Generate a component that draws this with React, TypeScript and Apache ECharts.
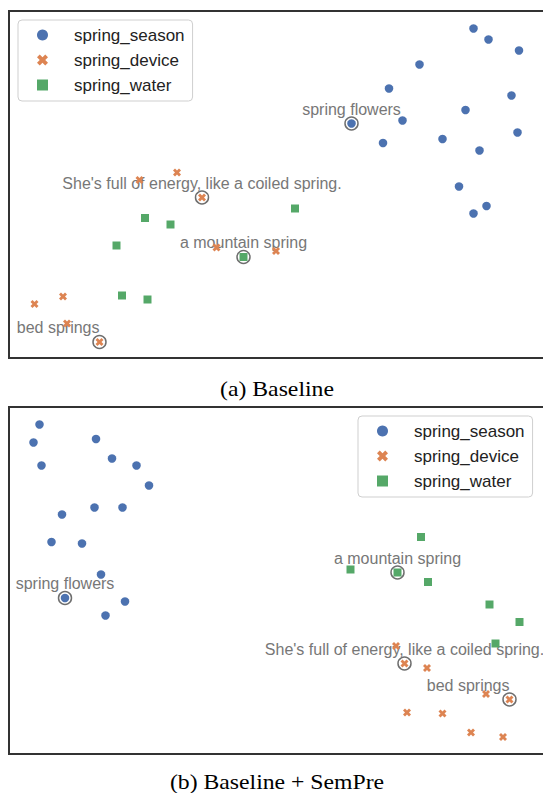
import React, { useEffect, useRef } from "react";
import * as echarts from "echarts";

// t-SNE style 2-D embeddings (arbitrary units)
const seasonA: [number, number][] = [
  [92.9, 65.9], [95.9, 63.7], [102.0, 61.5], [82.1, 58.7], [76.0, 53.9], [100.5, 52.5],
  [91.3, 49.6], [68.5, 46.9], [78.7, 47.5], [101.7, 45.1], [74.8, 43.0], [86.7, 43.8],
  [94.1, 41.5], [90.0, 34.3], [95.5, 30.4], [92.9, 28.9],
];
const deviceA: [number, number][] = [
  [33.6, 37.1], [26.1, 35.6], [38.6, 32.1], [41.5, 22.1], [53.4, 21.4], [10.8, 12.3],
  [5.1, 10.8], [11.6, 6.9], [18.1, 3.2],
];
const waterA: [number, number][] = [
  [27.2, 28.0], [32.3, 26.7], [21.5, 22.5], [46.9, 20.2], [22.6, 12.5], [27.7, 11.7], [57.2, 29.9],
];
const seasonB: [number, number][] = [
  [6.1, 65.9], [4.9, 62.3], [17.4, 63.0], [20.6, 59.1], [25.5, 57.7], [6.5, 57.7],
  [28.0, 53.7], [10.6, 47.9], [17.1, 49.3], [22.7, 49.3], [8.5, 42.4], [14.6, 42.1],
  [18.4, 35.9], [11.2, 31.2], [23.2, 30.5], [19.3, 27.7],
];
const deviceB: [number, number][] = [
  [77.4, 21.6], [79.1, 18.1], [83.6, 17.2], [95.4, 12.0], [100.1, 10.9], [79.6, 8.3],
  [86.7, 8.1], [92.4, 4.3], [98.8, 3.4],
];
const waterB: [number, number][] = [
  [82.4, 43.4], [68.3, 36.9], [77.7, 36.3], [83.8, 34.4], [96.1, 29.9], [102.1, 26.4], [97.3, 22.1],
];

// annotated sentences: [text, group, index into that group's array]
const annotA: [string, string, number][] = [
  ["spring flowers", "season", 7],
  ["She's full of energy, like a coiled spring.", "device", 2],
  ["a mountain spring", "water", 3],
  ["bed springs", "device", 8],
];
const annotB: [string, string, number][] = [
  ["spring flowers", "season", 13],
  ["a mountain spring", "water", 2],
  ["She's full of energy, like a coiled spring.", "device", 1],
  ["bed springs", "device", 4],
];

const seriesNames = ["spring_season", "spring_device", "spring_water"];
const captions = ["(a) Baseline", "(b) Baseline + SemPre"];

const X_PATH =
  "path://M2.5,0 L5,2.5 L7.5,0 L10,2.5 L7.5,5 L10,7.5 L7.5,10 L5,7.5 L2.5,10 L0,7.5 L2.5,5 L0,2.5 Z";
const COLORS = ["#4C72B0", "#DD8452", "#55A868"];
const SANS = "Liberation Sans, Arial, sans-serif";
const SERIF = "Liberation Serif, Times New Roman, serif";

export default function App() {
  const ref = useRef<HTMLDivElement>(null);
  useEffect(() => {
    if (!ref.current) return;
    const chart = echarts.init(ref.current, undefined, { renderer: "svg" });
    const panels = [
      { season: seasonA, device: deviceA, water: waterA, annot: annotA, top: 11 },
      { season: seasonB, device: deviceB, water: waterB, annot: annotB, top: 407 },
    ];
    const grids: any[] = [];
    const xAxes: any[] = [];
    const yAxes: any[] = [];
    const series: any[] = [];
    const hidden = {
      axisLine: { show: false },
      axisTick: { show: false },
      axisLabel: { show: false },
      splitLine: { show: false },
    };
    panels.forEach((p, i) => {
      grids.push({
        left: 9,
        top: p.top,
        width: 544,
        height: 347,
        show: true,
        borderColor: "#333",
        borderWidth: 2,
        backgroundColor: "transparent",
      });
      xAxes.push({ type: "value", gridIndex: i, min: 0, max: 108.8, ...hidden });
      yAxes.push({ type: "value", gridIndex: i, min: 0, max: 69.4, ...hidden });
      const groups: Record<string, [number, number][]> = {
        season: p.season,
        device: p.device,
        water: p.water,
      };
      series.push({
        type: "scatter",
        name: "highlight" + i,
        xAxisIndex: i,
        yAxisIndex: i,
        symbol: "circle",
        symbolSize: 13,
        itemStyle: { color: "#fff", borderColor: "#6e6e6e", borderWidth: 1.5, opacity: 1 },
        z: 2,
        label: {
          show: true,
          formatter: "{b}",
          position: "top",
          distance: -1,
          color: "#777",
          fontSize: 16,
          fontFamily: SANS,
        },
        data: p.annot.map(([text, g, idx]) => ({
          name: text,
          value: groups[g][idx],
          label: text === "bed springs" ? { align: "right" } : undefined,
        })),
      });
      series.push({
        type: "scatter",
        name: seriesNames[0],
        xAxisIndex: i,
        yAxisIndex: i,
        symbol: "circle",
        symbolSize: 8.5,
        itemStyle: { color: COLORS[0], opacity: 1 },
        z: 3,
        data: p.season,
      });
      series.push({
        type: "scatter",
        name: seriesNames[1],
        xAxisIndex: i,
        yAxisIndex: i,
        symbol: X_PATH,
        symbolSize: 8,
        itemStyle: { color: COLORS[1], opacity: 1 },
        z: 3,
        data: p.device,
      });
      series.push({
        type: "scatter",
        name: seriesNames[2],
        xAxisIndex: i,
        yAxisIndex: i,
        symbol: "rect",
        symbolSize: 8,
        itemStyle: { color: COLORS[2], opacity: 1 },
        z: 3,
        data: p.water,
      });
    });
    const legendBase = {
      orient: "vertical",
      itemWidth: 11,
      itemHeight: 11,
      itemGap: 5,
      padding: [5, 8, 6, 19],
      borderColor: "#cfcfcf",
      borderWidth: 1,
      borderRadius: 4,
      backgroundColor: "#fff",
      selectedMode: false,
      textStyle: {
        fontSize: 17,
        lineHeight: 20,
        color: "#222",
        fontFamily: SANS,
        padding: [0, 0, 0, 21],
      },
      data: [
        { name: seriesNames[0], icon: "circle", itemStyle: { opacity: 1 } },
        { name: seriesNames[1], icon: X_PATH, itemStyle: { opacity: 1 } },
        { name: seriesNames[2], icon: "rect", itemStyle: { opacity: 1 } },
      ],
    };
    const caption = (text: string, y: number) => ({
      type: "text",
      x: 277,
      y,
      scaleX: 1.13,
      style: {
        text,
        fontSize: 21,
        fontFamily: SERIF,
        fill: "#000",
        align: "center",
        verticalAlign: "middle",
      },
    });
    chart.setOption({
      animation: false,
      backgroundColor: "#fff",
      grid: grids,
      xAxis: xAxes,
      yAxis: yAxes,
      legend: [
        { ...legendBase, left: 18, top: 20 },
        { ...legendBase, left: 358, top: 416 },
      ],
      graphic: [caption(captions[0], 388.5), caption(captions[1], 782)],
      series,
    });
    return () => chart.dispose();
  }, []);
  return (
    <div
      style={{
        position: "absolute",
        left: 0,
        top: 0,
        width: 543,
        height: 793,
        overflow: "hidden",
        background: "#fff",
      }}
    >
      <div ref={ref} style={{ width: 560, height: 793 }} />
    </div>
  );
}
